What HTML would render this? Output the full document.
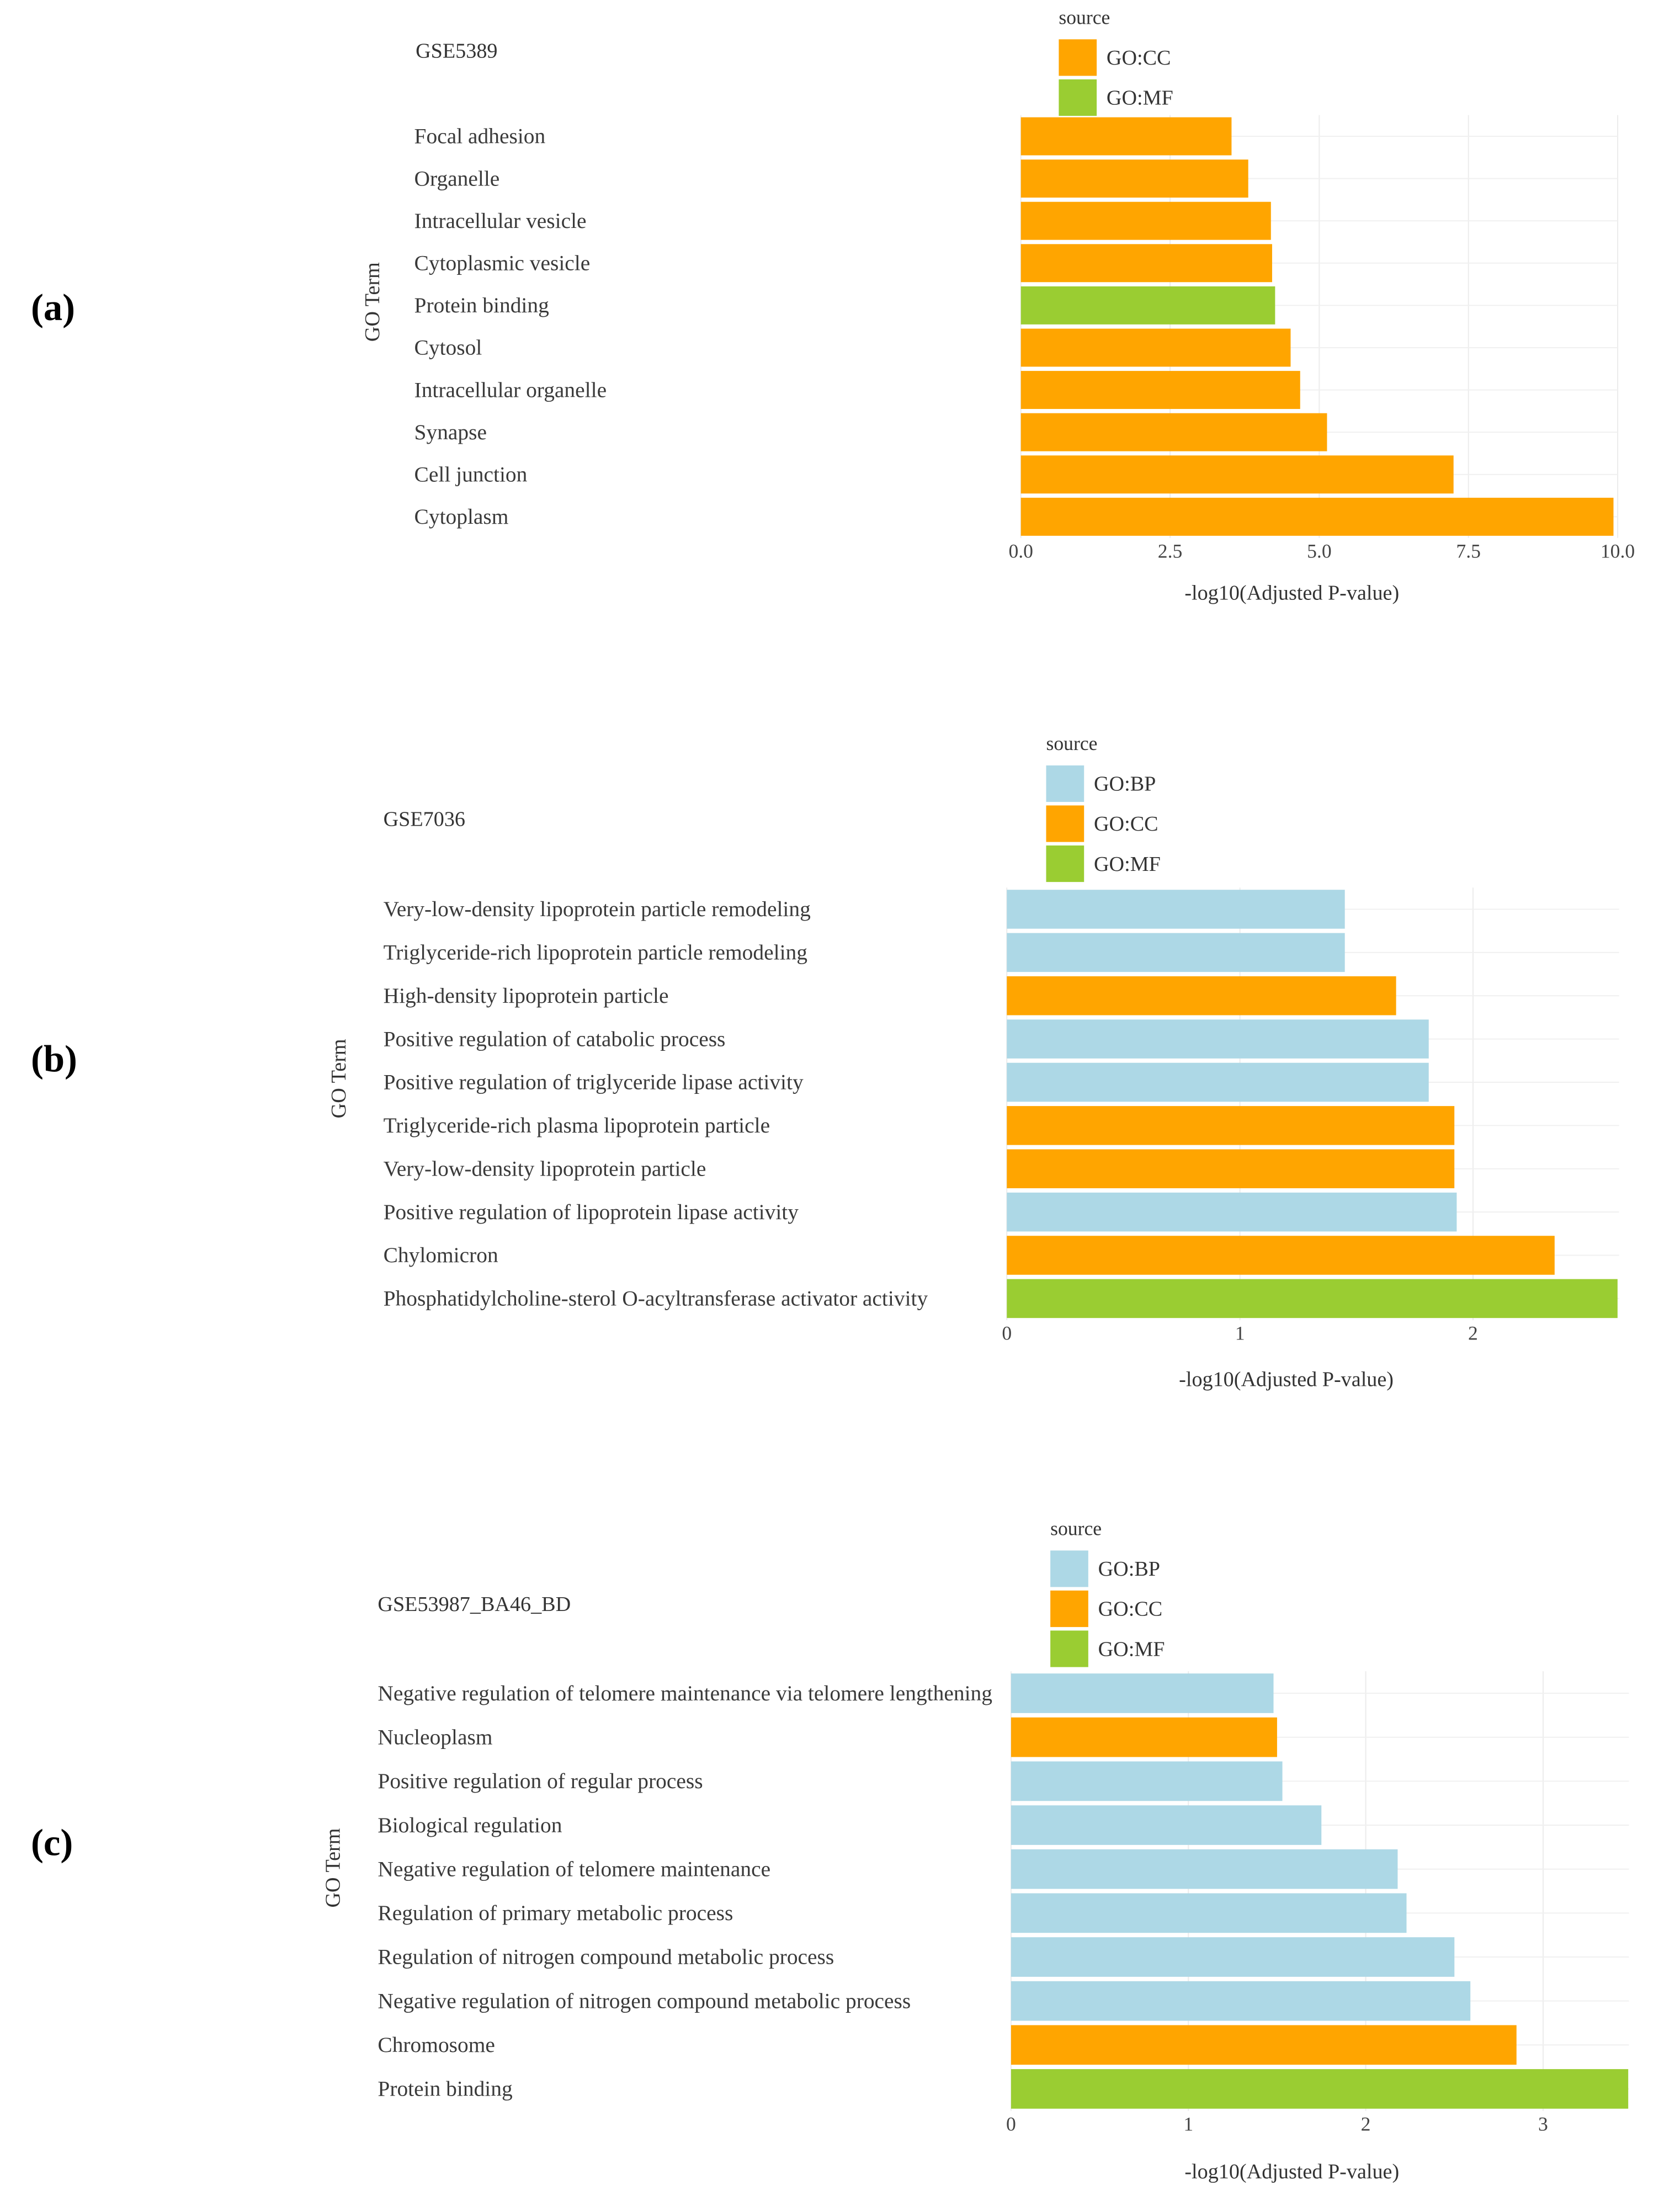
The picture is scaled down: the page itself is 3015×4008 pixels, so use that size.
<!DOCTYPE html>
<html><head><meta charset="utf-8"><style>
html,body{margin:0;padding:0;background:#fff;}
svg{display:block;font-family:"Liberation Serif",serif;}
</style></head><body>
<svg id="fig" width="3015" height="4008" viewBox="0 0 1185 1575" preserveAspectRatio="none" xmlns="http://www.w3.org/2000/svg"></svg>
<script>
const colors = {"GO:BP":"#ADD8E6","GO:CC":"#FFA500","GO:MF":"#9ACD32"};

const termsA = ["Focal adhesion","Organelle","Intracellular vesicle","Cytoplasmic vesicle","Protein binding","Cytosol","Intracellular organelle","Synapse","Cell junction","Cytoplasm"];
const valuesA = [3.53,3.81,4.19,4.21,4.26,4.52,4.68,5.13,7.25,9.93];
const sourcesA = ["GO:CC","GO:CC","GO:CC","GO:CC","GO:MF","GO:CC","GO:CC","GO:CC","GO:CC","GO:CC"];
const ticksA = ["0.0","2.5","5.0","7.5","10.0"];
const tickValsA = [0,2.5,5,7.5,10];
const legendA = ["GO:CC","GO:MF"];

const termsB = ["Very-low-density lipoprotein particle remodeling","Triglyceride-rich lipoprotein particle remodeling","High-density lipoprotein particle","Positive regulation of catabolic process","Positive regulation of triglyceride lipase activity","Triglyceride-rich plasma lipoprotein particle","Very-low-density lipoprotein particle","Positive regulation of lipoprotein lipase activity","Chylomicron","Phosphatidylcholine-sterol O-acyltransferase activator activity"];
const valuesB = [1.45,1.45,1.67,1.81,1.81,1.92,1.92,1.93,2.35,2.62];
const sourcesB = ["GO:BP","GO:BP","GO:CC","GO:BP","GO:BP","GO:CC","GO:CC","GO:BP","GO:CC","GO:MF"];
const ticksB = ["0","1","2"];
const tickValsB = [0,1,2];
const legendB = ["GO:BP","GO:CC","GO:MF"];

const termsC = ["Negative regulation of telomere maintenance via telomere lengthening","Nucleoplasm","Positive regulation of regular process","Biological regulation","Negative regulation of telomere maintenance","Regulation of primary metabolic process","Regulation of nitrogen compound metabolic process","Negative regulation of nitrogen compound metabolic process","Chromosome","Protein binding"];
const valuesC = [1.48,1.50,1.53,1.75,2.18,2.23,2.50,2.59,2.85,3.48];
const sourcesC = ["GO:BP","GO:CC","GO:BP","GO:BP","GO:BP","GO:BP","GO:BP","GO:BP","GO:CC","GO:MF"];
const ticksC = ["0","1","2","3"];
const tickValsC = [0,1,2,3];
const legendC = ["GO:BP","GO:CC","GO:MF"];

const NS="http://www.w3.org/2000/svg";
const svg=document.getElementById('fig');
function mk(tag,attrs,parent,text){const e=document.createElementNS(NS,tag);for(const k in attrs)e.setAttribute(k,attrs[k]);if(text!==undefined)e.textContent=text;(parent||svg).appendChild(e);return e;}

function panel(p){
  const g=mk('g',{});
  
  
  const x=v=>p.x0+v*p.unit;
  const n=p.terms.length;
  const rowH=(p.yBot-p.yTop)/n;
  for(let i=0;i<p.tickVals.length;i++){
    const gl=mk('line',{x1:x(p.tickVals[i]),x2:x(p.tickVals[i]),y1:p.yTop,y2:p.yBot,stroke:'#ececec','stroke-width':0.8},g);
    
    
  }
  for(let i=0;i<n;i++){
    const yc=p.yTop+rowH*(i+0.5);
    const hl=mk('line',{x1:p.x0,x2:p.xR,y1:yc,y2:yc,stroke:'#f0f0f0','stroke-width':0.8},g);
    
    
    const b=mk('rect',{x:p.x0,y:yc-rowH*0.45,width:p.values[i]*p.unit,height:rowH*0.9,fill:colors[p.sources[i]]},g);
    
    
    const t=mk('text',{x:p.lx,y:yc+5,'font-size':15.5,fill:'#3a3a3a'},g,p.terms[i]);
    
    
  }
  for(let i=0;i<p.ticks.length;i++){
    const t=mk('text',{x:x(p.tickVals[i]),y:p.yBot+14,'font-size':14,'text-anchor':'middle',fill:'#444'},g,p.ticks[i]);
    
    
  }
  const xl=mk('text',{x:p.xLabX,y:p.xLabY,'font-size':15,'text-anchor':'middle',fill:'#333'},g,'-log10(Adjusted P-value)');
  
  
  const yl=mk('text',{x:0,y:0,'font-size':15,'text-anchor':'middle',fill:'#333',transform:`translate(${p.yLabX},${p.yLabY}) rotate(-90)`},g,'GO Term');
  
  
  const ti=mk('text',{x:p.tx,y:p.ty,'font-size':15,fill:'#333'},g,p.title);
  
  
  const le=mk('text',{x:22,y:p.letterY,'font-size':27,'font-weight':'bold',fill:'#000'},g,p.letter);
  
  
  const st=mk('text',{x:p.legX,y:p.legY,'font-size':14,fill:'#333'},g,'source');
  
  
  for(let i=0;i<p.legend.length;i++){
    const y0=p.legY+11+i*28.5;
    const k=mk('rect',{x:p.legX,y:y0,width:27,height:26,fill:colors[p.legend[i]]},g);
    
    
    const lt=mk('text',{x:p.legX+34,y:y0+18,'font-size':15,fill:'#333'},g,p.legend[i]);
    
    
  }
}
panel({id:'a',letter:'(a)',letterY:228,terms:termsA,values:valuesA,sources:sourcesA,ticks:ticksA,tickVals:tickValsA,legend:legendA,
  x0:727,unit:42.5,xR:1152,yTop:82,yBot:383,lx:295,xLabX:920,xLabY:427,yLabX:270,yLabY:215,title:'GSE5389',tx:296,ty:41,legX:754,legY:17});
panel({id:'b',letter:'(b)',letterY:763,terms:termsB,values:valuesB,sources:sourcesB,ticks:ticksB,tickVals:tickValsB,legend:legendB,
  x0:717,unit:166,xR:1153,yTop:632,yBot:940,lx:273,xLabX:916,xLabY:987,yLabX:246,yLabY:768,title:'GSE7036',tx:273,ty:588,legX:745,legY:534});
panel({id:'c',letter:'(c)',letterY:1321,terms:termsC,values:valuesC,sources:sourcesC,ticks:ticksC,tickVals:tickValsC,legend:legendC,
  x0:720,unit:126.3,xR:1160,yTop:1190,yBot:1503,lx:269,xLabX:920,xLabY:1551,yLabX:242,yLabY:1330,title:'GSE53987_BA46_BD',tx:269,ty:1147,legX:748,legY:1093});
</script>
</body></html>
